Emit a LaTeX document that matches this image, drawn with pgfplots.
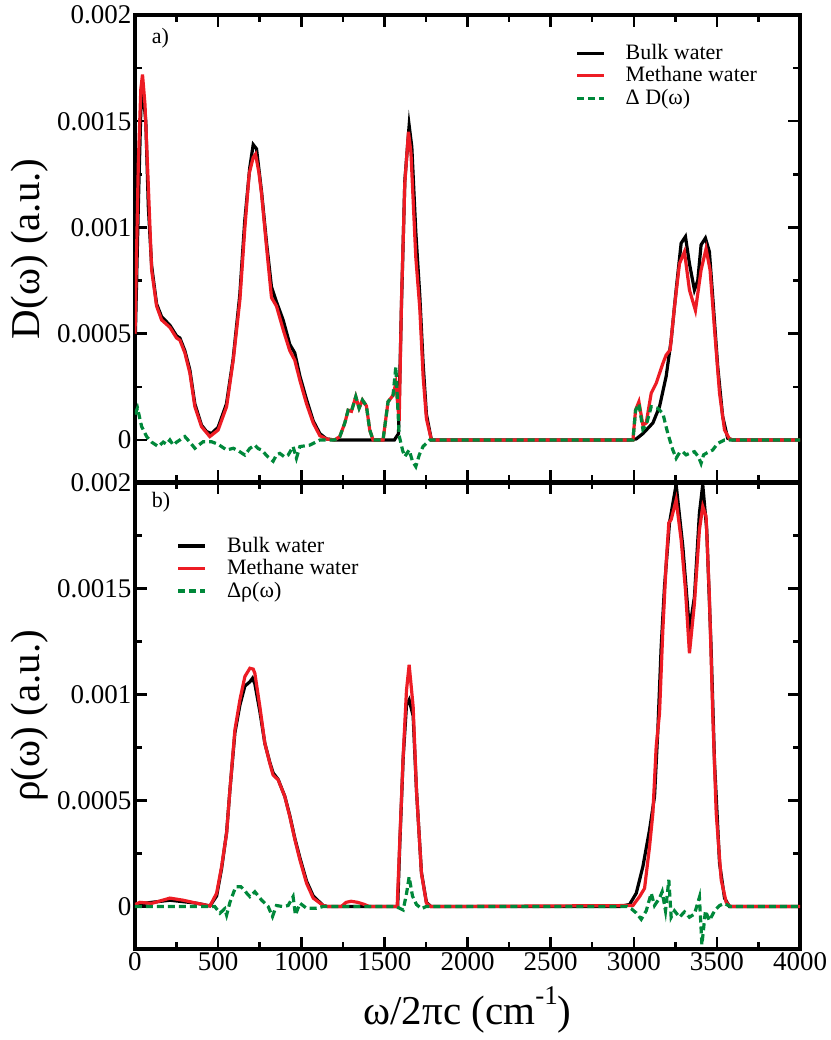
\documentclass[border=0pt]{standalone}
\usepackage{fontspec}
\setmainfont{Liberation Serif}
\usepackage{pgfplots}
\pgfplotsset{compat=1.18}
\definecolor{myred}{RGB}{237,28,36}
\definecolor{mygreen}{RGB}{0,136,58}
\pgfplotsset{panel/.style={
  scale only axis, width=665pt,
  xmin=0, xmax=4000, ymin=-0.0002, ymax=0.002,
  xtick={0,500,1000,1500,2000,2500,3000,3500,4000},
  minor xtick={250,750,1250,1750,2250,2750,3250,3750},
  ytick={0,0.0005,0.001,0.0015,0.002},
  minor ytick={0.00025,0.00075,0.00125,0.00175},
  yticklabels={0,0.0005,0.001,0.0015,0.002},
  scaled y ticks=false, scaled x ticks=false,
  tick align=inside,
  major tick length=12pt, minor tick length=7pt,
  every tick/.style={black, line width=2.5pt},
  axis line style={line width=4.5pt},
  tick label style={font=\fontsize{27}{27}\selectfont},
  label style={font=\fontsize{41}{41}\selectfont},
  ylabel style={at={(axis description cs:-0.158,0.5)}, anchor=center},
  legend cell align=left,
  legend image code/.code={\draw[#1] (0pt,0pt) -- (27pt,0pt);},
  legend style={draw=none, fill=none, inner sep=0pt, row sep=0pt, column sep=20pt,
    font=\fontsize{22}{22}\selectfont,
    nodes={inner sep=0pt, text height=17.5pt, text depth=5pt}},
  blk/.style={black, line width=3.2pt},
  rd/.style={myred, line width=3.2pt},
  gr/.style={mygreen, line width=3.2pt, dash pattern=on 7pt off 4pt},
}}
\begin{document}
\begin{tikzpicture}
\useasboundingbox (-135pt,-91pt) rectangle (695pt,949pt);
% ---------------- bottom panel ----------------
\begin{axis}[panel, name=bot, height=466.5pt, at={(0pt,0pt)}, anchor=south west,
  xticklabels={0,500,1000,1500,2000,2500,3000,3500,4000},
  xlabel={ω/2πc (cm\raisebox{0.5em}{\fontsize{27}{27}\selectfont -1})},
  xlabel style={at={(axis description cs:0.5,-0.131)}, anchor=center},
  ylabel={ρ(ω) (a.u.)},
  legend style={at={(0.0627,0.8885)}, anchor=north west}]
\addplot[blk] coordinates {(0,0.00001)(100,0.00002)(210,0.00003)(370,0.000016)(451,0.000003)(491,0.00005)(521,0.00018)(551,0.00035)(571,0.00055)(601,0.00082)(631,0.00095)(661,0.00104)(691,0.00106)(707,0.001077)(721,0.00105)(751,0.00092)(781,0.00077)(811,0.00068)(831,0.00063)(861,0.0006)(901,0.00052)(931,0.00043)(962,0.00032)(992,0.00023)(1032,0.00012)(1072,0.00005)(1132,0.000005)(1160,0)(1580,0)(1593,0.0003)(1613,0.0007)(1633,0.00095)(1649,0.000975)(1673,0.0009)(1693,0.00055)(1723,0.00016)(1753,0.00002)(1780,0)(2915,0)(2975,0.00001)(3015,0.000063)(3055,0.000189)(3095,0.000362)(3125,0.000519)(3145,0.000834)(3165,0.001226)(3185,0.00151)(3215,0.00181)(3255,0.00199)(3295,0.0017)(3335,0.001305)(3365,0.00146)(3395,0.001856)(3415,0.00199)(3439,0.001777)(3465,0.001226)(3486,0.000676)(3516,0.000205)(3546,0.00004)(3576,0)(4000,0)};
\addlegendentry{Bulk water}
\addplot[rd] coordinates {(0,0.00001)(30,0.00002)(100,0.000015)(210,0.00004)(290,0.00003)(370,0.000016)(451,0.000003)(491,0.000063)(521,0.000189)(551,0.000346)(571,0.00055)(601,0.000834)(631,0.000975)(661,0.001085)(691,0.001124)(711,0.00112)(721,0.0011)(751,0.000943)(781,0.00077)(811,0.000676)(827,0.00063)(831,0.00062)(861,0.000598)(901,0.000519)(931,0.000425)(962,0.000315)(992,0.00022)(1032,0.00011)(1072,0.00004)(1132,0.000005)(1160,0)(1240,0)(1270,0.00002)(1300,0.000025)(1340,0.00002)(1380,0.00001)(1410,0)(1577,0)(1593,0.000315)(1613,0.000708)(1633,0.00102)(1649,0.00114)(1673,0.000943)(1693,0.00055)(1723,0.000157)(1753,0.000016)(1780,0)(2995,0.000005)(3035,0.000047)(3065,0.000086)(3095,0.000283)(3115,0.00044)(3135,0.000755)(3155,0.000912)(3175,0.001305)(3195,0.00162)(3211,0.00181)(3225,0.001825)(3255,0.001918)(3285,0.00173)(3311,0.001494)(3335,0.001195)(3365,0.00143)(3395,0.001777)(3415,0.001887)(3435,0.00184)(3455,0.00146)(3475,0.000912)(3496,0.00044)(3526,0.000126)(3556,0.00002)(3580,0)(4000,0)};
\addlegendentry{Methane water}
\addplot[gr] coordinates {(0,0)(480,0)(511,-0.000031)(540,-0.00001)(551,-0.00004)(571,0.00002)(606,0.000094)(636,0.000094)(656,0.00008)(675,0.00006)(691,0.000047)(721,0.00007)(761,0.000031)(801,0)(827,-0.000047)(851,0.000005)(891,0)(921,0.000005)(951,0.000047)(965,-0.00004)(992,0.000016)(1032,-0.000008)(1092,-0.000008)(1130,0)(1571,0)(1613,-0.000016)(1633,0.00006)(1649,0.00014)(1669,0.00005)(1693,0.00001)(1723,-0.00001)(1750,0)(2960,0)(2985,-0.00001)(3015,-0.00003)(3045,-0.00006)(3075,-0.00002)(3105,0.000063)(3125,0.000005)(3155,0.00004)(3171,0.00007)(3191,-0.00002)(3211,0.000126)(3225,-0.00005)(3245,-0.00002)(3275,-0.00005)(3305,-0.000025)(3335,-0.00005)(3365,-0.000035)(3395,0.000044)(3410,-0.00018)(3431,-0.00002)(3455,-0.000066)(3486,-0.00002)(3516,0.000005)(3546,0.000015)(3580,0)(4000,0)};
\addlegendentry{Δρ(ω)}
\node[anchor=base west, font=\fontsize{22}{22}\selectfont] at (rel axis cs:0.02,0.947) {b)};
\end{axis}
% ---------------- top panel ----------------
\begin{axis}[panel, name=top, height=467.5pt, at={(0pt,466.5pt)}, anchor=south west,
  xticklabels={},
  ylabel={D(ω) (a.u.)},
  legend style={at={(0.662,0.9427)}, anchor=north west}]
\addplot[blk] coordinates {(0,0.00042)(20,0.0011)(35,0.00155)(50,0.00162)(65,0.0015)(80,0.0011)(100,0.00082)(130,0.00064)(160,0.00058)(210,0.00054)(250,0.00049)(270,0.00048)(300,0.00042)(330,0.00033)(360,0.00017)(400,0.00007)(430,0.00004)(460,0.00003)(500,0.00006)(550,0.00017)(590,0.00038)(630,0.00068)(660,0.00103)(690,0.00128)(711,0.00139)(731,0.00137)(761,0.00117)(791,0.00093)(821,0.00072)(851,0.00065)(891,0.000565)(931,0.00045)(961,0.00041)(992,0.0003)(1032,0.00019)(1072,0.00009)(1112,0.00003)(1152,0.000005)(1200,0)(1560,0)(1585,0.00003)(1603,0.00064)(1623,0.00122)(1649,0.00148)(1665,0.00138)(1689,0.00098)(1713,0.00068)(1733,0.00036)(1753,0.00012)(1783,0)(2975,0)(3015,0.000005)(3055,0.00003)(3115,0.00008)(3155,0.000157)(3195,0.0003)(3225,0.00047)(3255,0.000706)(3285,0.000926)(3311,0.000957)(3335,0.00083)(3365,0.000706)(3385,0.00075)(3405,0.000918)(3431,0.00095)(3455,0.000886)(3475,0.000674)(3505,0.000345)(3535,0.00011)(3565,0.000008)(3595,0)(4000,0)};
\addlegendentry{Bulk water}
\addplot[rd] coordinates {(0,0.0005)(20,0.0013)(35,0.00165)(45,0.00172)(60,0.00158)(80,0.0012)(100,0.0008)(130,0.00063)(160,0.000565)(210,0.00053)(250,0.00048)(270,0.00047)(300,0.00041)(330,0.000315)(360,0.000157)(400,0.000063)(450,0.000016)(500,0.000047)(551,0.000157)(591,0.000376)(631,0.00066)(661,0.001)(687,0.001255)(711,0.00133)(725,0.001345)(745,0.00126)(761,0.00116)(791,0.00091)(821,0.00067)(851,0.00063)(891,0.00052)(931,0.00042)(961,0.000376)(992,0.00028)(1032,0.00017)(1072,0.00008)(1112,0.00002)(1152,0.000005)(1200,0)(1232,0.000016)(1262,0.00008)(1282,0.00014)(1302,0.000135)(1328,0.000204)(1348,0.00015)(1368,0.000188)(1392,0.00016)(1412,0.000047)(1432,0)(1492,0)(1522,0.00018)(1552,0.00021)(1569,0.000267)(1589,0.00009)(1603,0.00066)(1623,0.00121)(1645,0.00145)(1660,0.00135)(1689,0.00086)(1713,0.00062)(1733,0.0003)(1753,0.0001)(1783,0)(2995,0)(3011,0.000141)(3031,0.00018)(3055,0.00007)(3075,0.00008)(3105,0.00022)(3135,0.000267)(3175,0.00036)(3195,0.0004)(3219,0.000424)(3245,0.000627)(3275,0.00083)(3305,0.000886)(3335,0.000706)(3371,0.00061)(3405,0.0008)(3435,0.0009)(3459,0.0008)(3486,0.00052)(3516,0.00022)(3546,0.000047)(3576,0.000005)(3600,0)(4000,0)};
\addlegendentry{Methane water}
\addplot[gr] coordinates {(0,0.00012)(15,0.00015)(40,0.000063)(70,0.000016)(100,-0.00001)(140,-0.000031)(170,-0.00001)(190,-0.00002)(210,0)(230,-0.000024)(250,-0.00001)(270,0)(300,0.000016)(330,-0.00001)(360,-0.000039)(390,-0.00002)(410,-0.000008)(460,-0.000008)(500,-0.00002)(551,-0.000047)(591,-0.000039)(620,-0.00005)(661,-0.000071)(690,-0.00004)(721,-0.000024)(740,-0.00004)(761,-0.000047)(800,-0.00008)(831,-0.0001)(851,-0.00007)(871,-0.000063)(900,-0.00008)(921,-0.000071)(951,-0.000031)(971,-0.000086)(992,-0.000031)(1052,-0.000024)(1112,0)(1200,0)(1232,0.000016)(1262,0.00008)(1282,0.00014)(1302,0.000135)(1328,0.000204)(1348,0.00015)(1368,0.000188)(1392,0.00016)(1412,0.000047)(1432,0)(1492,0)(1522,0.00018)(1552,0.00021)(1569,0.000345)(1589,0.00002)(1610,-0.00005)(1623,-0.000078)(1649,-0.000047)(1669,-0.0001)(1689,-0.000125)(1710,-0.00007)(1733,-0.00003)(1773,0)(2995,0)(3011,0.00014)(3031,0.00017)(3055,0.00005)(3075,0.00007)(3105,0.000157)(3145,0.000149)(3175,0.000125)(3205,0.00003)(3235,-0.000047)(3255,-0.000086)(3275,-0.00006)(3295,-0.000055)(3315,-0.00007)(3335,-0.000063)(3365,-0.000055)(3390,-0.00008)(3405,-0.00011)(3420,-0.00007)(3435,-0.000063)(3475,-0.000047)(3505,-0.000016)(3546,0)(4000,0)};
\addlegendentry{Δ D(ω)}
\node[anchor=base west, font=\fontsize{22}{22}\selectfont] at (rel axis cs:0.02,0.94) {a)};
\end{axis}
\end{tikzpicture}
\end{document}
